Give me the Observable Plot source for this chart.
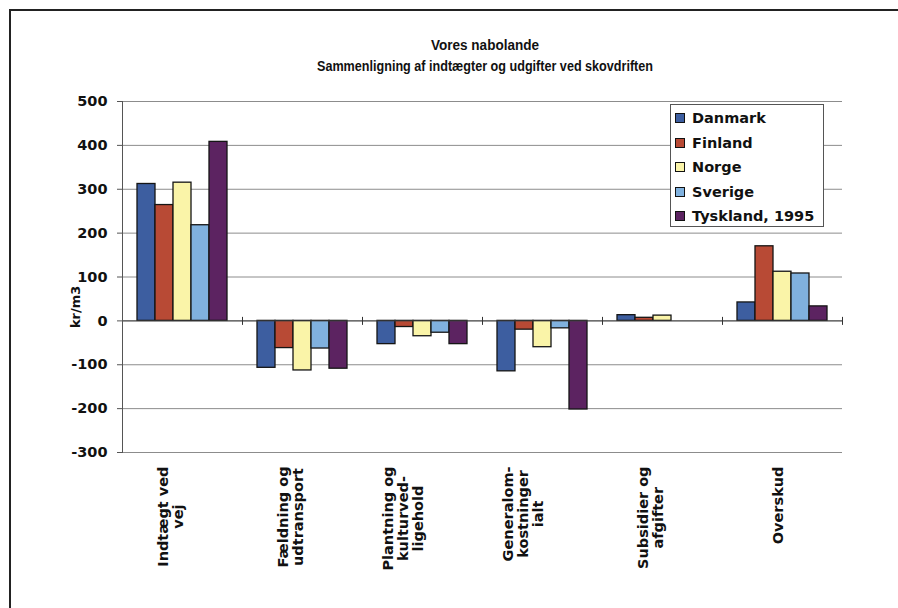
<!DOCTYPE html>
<html><head><meta charset="utf-8">
<script src="https://cdn.jsdelivr.net/npm/d3@7"></script>
<script src="https://cdn.jsdelivr.net/npm/@observablehq/plot@0.6"></script>
<style>
body{margin:0;background:#fff;}
#wrap{position:relative;width:898px;height:608px;overflow:hidden;background:#fff;}
#wrap svg{position:absolute;left:0;top:0;}
#legend{position:absolute;left:670px;top:104px;width:154px;height:123px;border:1px solid #555;background:#fff;font:bold 14.5px 'DejaVu Sans',sans-serif;box-sizing:border-box;padding-top:1px;color:#111}
.row{height:24.5px;display:flex;align-items:center;padding-left:4px;}
.sw{width:10px;height:10px;border:1px solid #111;box-sizing:border-box;margin-right:7px;flex:none}
</style></head>
<body><div id="wrap"></div>
<script>
const categories = ["Indtægt ved vej", "Fældning og udtransport", "Plantning og kulturvedligehold", "Generalomkostninger ialt", "Subsidier og afgifter", "Overskud"];
const categoryLabels = ["Indtægt ved\nvej", "Fældning og\nudtransport", "Plantning og\nkulturved-\nligehold", "Generalom-\nkostninger\nialt", "Subsidier og\nafgifter", "Overskud"];
const countries = ["Danmark", "Finland", "Norge", "Sverige", "Tyskland, 1995"];
const danmark  = [312, -107, -53, -115, 13, 42];
const finland  = [264,  -62, -14,  -20,  7, 170];
const norge    = [315, -113, -35,  -60, 12, 112];
const sverige  = [218,  -63, -27,  -17,  0, 108];
const tyskland = [408, -109, -53, -202,  0, 33];
const colors = ["#3d5ea0", "#b84a35", "#faf4a8", "#80b1de", "#5c2361"];
const yTicks = [500, 400, 300, 200, 100, 0, -100, -200, -300];
const title1 = "Vores nabolande";
const title2 = "Sammenligning af indtægter og udgifter ved skovdriften";
const yLabel = "kr/m3";

const series = [danmark, finland, norge, sverige, tyskland];
const data = [];
categories.forEach((c, i) => countries.forEach((k, j) => data.push({category: c, country: k, value: series[j][i]})));

const FONT = "'DejaVu Sans', sans-serif";
const cv = document.createElement("canvas").getContext("2d");
cv.font = "bold 14.5px 'DejaVu Sans'";
const labelW = categoryLabels.map(t => Math.max(...t.split("\n").map(s => cv.measureText(s).width)));

const vtick = {draw(ctx, size) { const r = Math.sqrt(size / Math.PI); ctx.moveTo(0, -r); ctx.lineTo(0, r); }};

const chart = Plot.plot({
  width: 898, height: 608,
  marginLeft: 122, marginRight: 56, marginTop: 101, marginBottom: 156,
  style: {fontFamily: FONT, fontSize: "14.5px", fontWeight: "bold", background: "transparent", color: "#111"},
  fx: {domain: categories, padding: 0, axis: null, label: null},
  x: {domain: countries, paddingInner: 0, paddingOuter: 0.76, axis: null, label: null},
  y: {domain: [-300, 500], axis: null, label: null},
  color: {domain: countries, range: colors},
  marks: [
    Plot.gridY(yTicks, {stroke: "#8c8c8c", strokeOpacity: 1, strokeWidth: 1}),
    Plot.barY(data, {fx: "category", x: "country", y: "value", fill: "country", stroke: "#151515", strokeWidth: 1.3}),
    Plot.ruleY([0], {stroke: "#444", strokeWidth: 1}),
    Plot.dot(categories, {fx: d => d, y: () => 0, frameAnchor: "left", symbol: vtick, r: 4, stroke: "#333", strokeWidth: 1}),
    Plot.dot([categories[categories.length - 1]], {fx: d => d, y: () => 0, frameAnchor: "right", symbol: vtick, r: 4, stroke: "#333", strokeWidth: 1}),
    Plot.frame({anchor: "left", facetAnchor: "left", stroke: "#555"}),
    Plot.axisY(yTicks, {anchor: "left", label: null, tickFormat: d => String(d), tickSize: 5, tickPadding: 10, stroke: "#555", fill: "#111", fontWeight: "bold", fontSize: 14.5}),
    ...categories.map((c, i) => Plot.text([c], {fx: d => d, text: () => categoryLabels[i], frameAnchor: "bottom", rotate: -90, dy: 14 + labelW[i] / 2, textAnchor: "middle", lineHeight: 1.03, fontSize: 14.5, fontWeight: "bold", fill: "#111"})),
    Plot.text([yLabel], {fx: () => categories[0], y: () => 32, frameAnchor: "left", dx: -47, rotate: -90, text: d => d, textAnchor: "middle", fontSize: 13, fontWeight: "bold", fill: "#111"})
  ]
});

const wrap = document.getElementById("wrap");
wrap.appendChild(chart);

// frame & title overlay
const ov = d3.select(wrap).append("svg").attr("width", 898).attr("height", 608).style("pointer-events", "none");
ov.append("path").attr("d", "M10,608V10H898").attr("fill", "none").attr("stroke", "#222").attr("stroke-width", 2);
ov.append("text").attr("x", 485).attr("y", 50).attr("text-anchor", "middle").attr("font-family", "'Liberation Sans', Arial, sans-serif").attr("font-size", 14).attr("font-weight", "bold").attr("fill", "#111").attr("textLength", 108).attr("lengthAdjust", "spacingAndGlyphs").text(title1);
ov.append("text").attr("x", 485).attr("y", 71).attr("text-anchor", "middle").attr("font-family", "'Liberation Sans', Arial, sans-serif").attr("font-size", 14).attr("font-weight", "bold").attr("fill", "#111").attr("textLength", 336).attr("lengthAdjust", "spacingAndGlyphs").text(title2);

// legend
const lg = d3.select(wrap).append("div").attr("id", "legend");
const rows = lg.selectAll(".row").data(countries).join("div").attr("class", "row");
rows.append("div").attr("class", "sw").style("background", (d, i) => colors[i]);
rows.append("span").text(d => d);
</script></body></html>
